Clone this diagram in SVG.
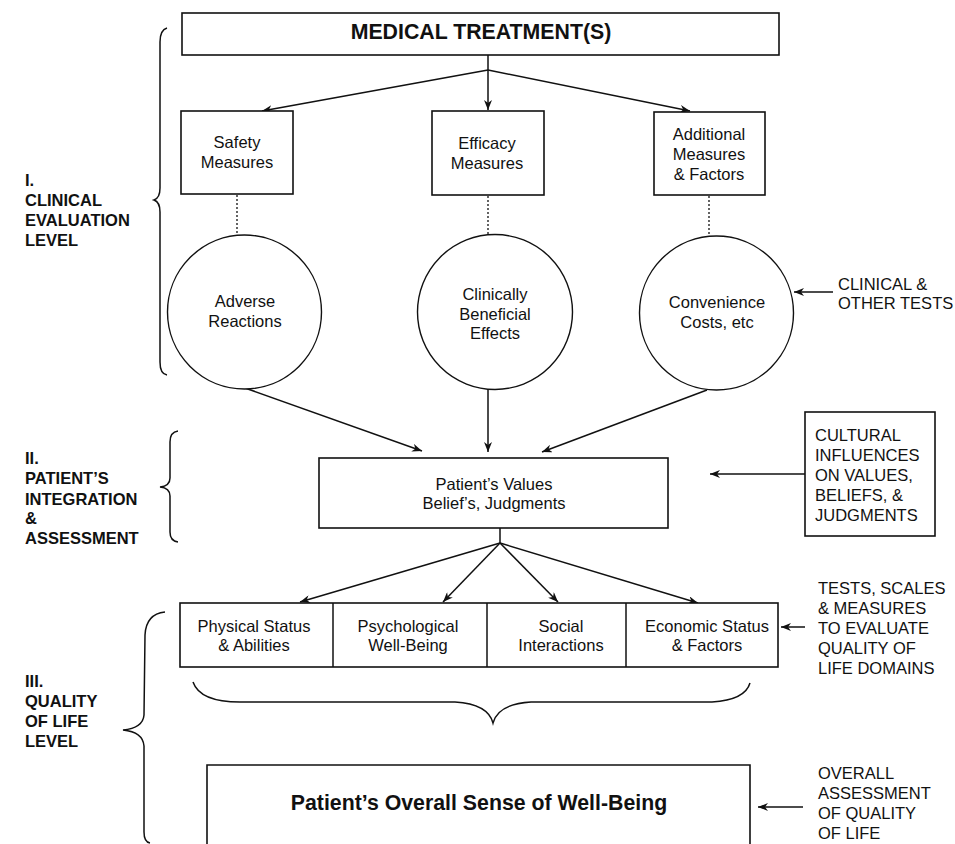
<svg xmlns="http://www.w3.org/2000/svg" width="955" height="844" viewBox="0 0 955 844">
<style>
.box{fill:#fff;stroke:#111;stroke-width:1.6}
.circ{fill:#fff;stroke:#111;stroke-width:1.4}
.ln{fill:none;stroke:#111;stroke-width:1.5}
.arr{fill:none;stroke:#111;stroke-width:1.5;marker-end:url(#ah)}
.dot{fill:none;stroke:#111;stroke-width:1.3;stroke-dasharray:2 2}
.br{fill:none;stroke:#111;stroke-width:1.5}
.t{font-family:"Liberation Sans",Arial,sans-serif;font-size:16.5px;fill:#111;text-anchor:middle}
.h{font-family:"Liberation Sans",Arial,sans-serif;font-weight:bold;fill:#111;text-anchor:middle}
.lb{font-family:"Liberation Sans",Arial,sans-serif;font-weight:bold;font-size:16.5px;fill:#111}
.rt{font-family:"Liberation Sans",Arial,sans-serif;font-size:16.5px;fill:#111}
</style>
<defs>
<marker id="ah" viewBox="0 0 10 8" refX="10" refY="4" markerWidth="10" markerHeight="8" markerUnits="userSpaceOnUse" orient="auto">
<path d="M0,0 L10,4 L0,8 L3,4 z" fill="#111"/>
</marker>
</defs>
<rect width="955" height="844" fill="#fff"/>

<g id="braces">
<path class="br" d="M167,28 Q160,30 160,42 L160,188 Q160,198 154,200 Q160,202 160,212 L160,362 Q160,374 167,375"/>
<path class="br" d="M178,431 Q170,432 170,442 L170,478 Q170,486 160,487 Q170,488 170,496 L170,532 Q170,541 178,542"/>
<path class="br" d="M165,612 Q146,614 145,635 L144,715 Q143,728 123,730 Q143,732 144,746 L144,832 Q144,842 150,843"/>
<path class="br" d="M193,682 Q200,702 240,702 L455,702 Q488,704 493,723 Q498,704 531,702 L712,702 Q745,700 750,683"/>
</g>

<g id="connectors">
<line class="arr" x1="488" y1="55" x2="488" y2="110"/>
<line class="arr" x1="488" y1="70" x2="262" y2="111"/>
<line class="arr" x1="488" y1="70" x2="690" y2="111"/>
<line class="dot" x1="237" y1="195" x2="237" y2="236"/>
<line class="dot" x1="488" y1="196" x2="488" y2="235"/>
<line class="dot" x1="709" y1="196" x2="709" y2="237"/>
<line class="arr" x1="245" y1="388" x2="422" y2="451"/>
<line class="arr" x1="488" y1="389" x2="488" y2="452"/>
<line class="arr" x1="707" y1="390" x2="542" y2="452"/>
<line class="arr" x1="805" y1="474" x2="710" y2="474"/>
<line class="arr" x1="833" y1="292" x2="794" y2="292"/>
<line class="ln" x1="500" y1="528" x2="500" y2="543"/>
<line class="arr" x1="500" y1="543" x2="300" y2="602"/>
<line class="arr" x1="500" y1="543" x2="443" y2="602"/>
<line class="arr" x1="500" y1="543" x2="558" y2="602"/>
<line class="arr" x1="500" y1="543" x2="698" y2="603"/>
<line class="arr" x1="805" y1="627" x2="781" y2="627"/>
<line class="arr" x1="803" y1="807" x2="758" y2="807"/>
</g>

<g id="medical-treatment">
<rect class="box" x="182" y="13" width="597" height="42"/>
<text class="h" x="481" y="39" font-size="21.3">MEDICAL TREATMENT(S)</text>
</g>

<g id="safety-measures">
<rect class="box" x="181" y="111" width="112" height="83"/>
<text class="t" x="237" y="148">Safety</text>
<text class="t" x="237" y="168">Measures</text>
</g>

<g id="efficacy-measures">
<rect class="box" x="432" y="111" width="112" height="84"/>
<text class="t" x="487" y="149">Efficacy</text>
<text class="t" x="487" y="169">Measures</text>
</g>

<g id="additional-measures">
<rect class="box" x="654" y="112" width="111" height="83"/>
<text class="t" x="709" y="140">Additional</text>
<text class="t" x="709" y="160">Measures</text>
<text class="t" x="709" y="180">&amp; Factors</text>
</g>

<g id="adverse-reactions">
<circle class="circ" cx="244.5" cy="312" r="77"/>
<text class="t" x="245" y="307">Adverse</text>
<text class="t" x="245" y="327">Reactions</text>
</g>

<g id="clinically-beneficial">
<circle class="circ" cx="495" cy="312" r="77.5"/>
<text class="t" x="495" y="300">Clinically</text>
<text class="t" x="495" y="320">Beneficial</text>
<text class="t" x="495" y="339">Effects</text>
</g>

<g id="convenience-costs">
<circle class="circ" cx="716.5" cy="313" r="77"/>
<text class="t" x="717" y="308">Convenience</text>
<text class="t" x="717" y="328">Costs, etc</text>
</g>

<g id="clinical-tests">
<text class="rt" x="838" y="290">CLINICAL &amp;</text>
<text class="rt" x="838" y="309">OTHER TESTS</text>
</g>

<g id="patients-values">
<rect class="box" x="319" y="458" width="349" height="70"/>
<text class="t" x="494" y="490">Patient’s Values</text>
<text class="t" x="494" y="509">Belief’s, Judgments</text>
</g>

<g id="cultural-influences">
<rect class="box" x="805" y="412" width="130" height="124"/>
<text class="rt" x="815" y="441">CULTURAL</text>
<text class="rt" x="815" y="461">INFLUENCES</text>
<text class="rt" x="815" y="481">ON VALUES,</text>
<text class="rt" x="815" y="501">BELIEFS, &amp;</text>
<text class="rt" x="815" y="521">JUDGMENTS</text>
</g>

<g id="domains">
<rect class="box" x="180" y="603" width="598" height="64"/>
<line class="ln" x1="333" y1="603" x2="333" y2="667"/>
<line class="ln" x1="487" y1="603" x2="487" y2="667"/>
<line class="ln" x1="626" y1="603" x2="626" y2="667"/>
</g>
<g id="physical-status">
<text class="t" x="254" y="632">Physical Status</text>
<text class="t" x="254" y="651">&amp; Abilities</text>
</g>
<g id="psychological">
<text class="t" x="408" y="632">Psychological</text>
<text class="t" x="408" y="651">Well-Being</text>
</g>
<g id="social">
<text class="t" x="561" y="632">Social</text>
<text class="t" x="561" y="651">Interactions</text>
</g>
<g id="economic">
<text class="t" x="707" y="632">Economic Status</text>
<text class="t" x="707" y="651">&amp; Factors</text>
</g>

<g id="tests-scales">
<text class="rt" x="818" y="594">TESTS, SCALES</text>
<text class="rt" x="818" y="614">&amp; MEASURES</text>
<text class="rt" x="818" y="634">TO EVALUATE</text>
<text class="rt" x="818" y="654">QUALITY OF</text>
<text class="rt" x="818" y="674">LIFE DOMAINS</text>
</g>

<g id="overall-wellbeing">
<path class="box" d="M207,846 L207,765 L750,765 L750,846"/>
<text class="h" x="479" y="810" font-size="21.3">Patient’s Overall Sense of Well-Being</text>
</g>

<g id="overall-assessment">
<text class="rt" x="818" y="779">OVERALL</text>
<text class="rt" x="818" y="799">ASSESSMENT</text>
<text class="rt" x="818" y="819">OF QUALITY</text>
<text class="rt" x="818" y="839">OF LIFE</text>
</g>

<g id="level-1">
<text class="lb" x="25" y="186">I.</text>
<text class="lb" x="25" y="206">CLINICAL</text>
<text class="lb" x="25" y="226">EVALUATION</text>
<text class="lb" x="25" y="246">LEVEL</text>
</g>
<g id="level-2">
<text class="lb" x="25" y="464">II.</text>
<text class="lb" x="25" y="484">PATIENT’S</text>
<text class="lb" x="25" y="505">INTEGRATION</text>
<text class="lb" x="25" y="524">&amp;</text>
<text class="lb" x="25" y="544">ASSESSMENT</text>
</g>
<g id="level-3">
<text class="lb" x="25" y="687">III.</text>
<text class="lb" x="25" y="707">QUALITY</text>
<text class="lb" x="25" y="727">OF LIFE</text>
<text class="lb" x="25" y="747">LEVEL</text>
</g>
</svg>
